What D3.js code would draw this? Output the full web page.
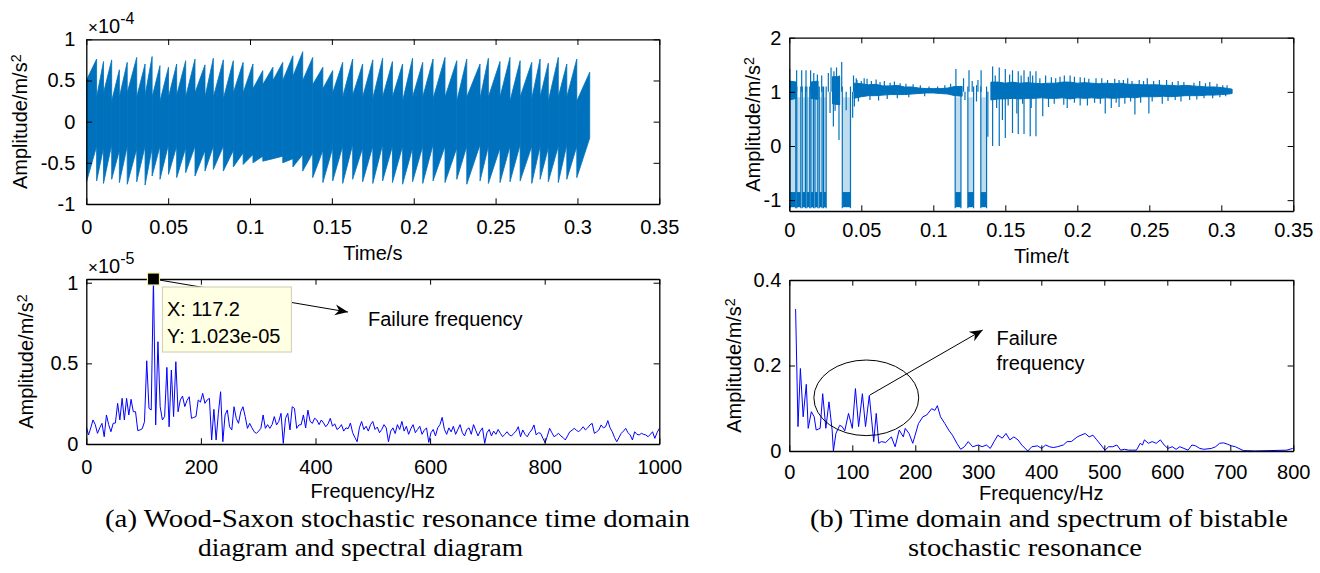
<!DOCTYPE html>
<html lang="en">
<head>
<meta charset="UTF-8">
<title>Stochastic resonance</title>
<script src="https://d3js.org/d3.v7.min.js"></script>
<style>
  body { margin: 0; background: #fff; }
  svg { display: block; }
</style>
</head>
<body>
<svg width="1320" height="573"></svg>
<script>
// ---- data ----

// (a) top: Wood-Saxon SR output, x1e-4 ; sawtooth-like bursts, one entry per burst
var tlCycleT = [0, 0.0063, 0.0105, 0.0155, 0.0202, 0.025, 0.0308, 0.0359, 0.0402, 0.045, 0.0502, 0.0552,
  0.0607, 0.0664, 0.0725, 0.0776, 0.0837, 0.0898, 0.0958, 0.1018, 0.1078, 0.114, 0.12, 0.1262, 0.1322,
  0.1383, 0.1445, 0.1505, 0.1566, 0.1627, 0.1688, 0.175, 0.181, 0.187, 0.1932, 0.1993, 0.2055, 0.2118,
  0.2191, 0.2263, 0.2324, 0.2405, 0.2456, 0.2527, 0.2588, 0.265, 0.2721, 0.2772, 0.2822, 0.2883, 0.2935,
  0.2996, 0.3075];
var tlUpStart = [0.5, 0.3, 0.35, 0.25, 0.3, 0.35, 0.3, 0.32, 0.3, 0.25, 0.3, 0.32, 0.3, 0.35, 0.3, 0.3,
  0.28, 0.35, 0.35, 0.4, 0.45, 0.5, 0.5, 0.55, 0.5, 0.45, 0.4, 0.35, 0.3, 0.32, 0.3, 0.28, 0.3, 0.3, 0.25,
  0.3, 0.3, 0.28, 0.3, 0.25, 0.3, 0.28, 0.3, 0.3, 0.25, 0.3, 0.28, 0.3, 0.25, 0.3, 0.3, 0.25];
var tlUpPeak = [0.76, 0.73, 0.75, 0.63, 0.72, 0.78, 0.7, 0.79, 0.68, 0.66, 0.7, 0.74, 0.76, 0.69, 0.77,
  0.75, 0.74, 0.72, 0.7, 0.62, 0.66, 0.72, 0.8, 0.85, 0.78, 0.66, 0.62, 0.72, 0.76, 0.7, 0.75, 0.77, 0.73,
  0.7, 0.77, 0.72, 0.76, 0.78, 0.74, 0.76, 0.7, 0.77, 0.73, 0.78, 0.74, 0.72, 0.76, 0.71, 0.78, 0.7, 0.76, 0.6];
var tlLoTrough = [-0.74, -0.72, -0.75, -0.7, -0.74, -0.76, -0.73, -0.77, -0.66, -0.7, -0.64, -0.68, -0.62,
  -0.66, -0.6, -0.58, -0.6, -0.55, -0.52, -0.5, -0.48, -0.45, -0.5, -0.55, -0.6, -0.68, -0.74, -0.72, -0.75,
  -0.7, -0.73, -0.75, -0.72, -0.74, -0.76, -0.73, -0.75, -0.72, -0.74, -0.7, -0.76, -0.72, -0.75, -0.74,
  -0.73, -0.72, -0.75, -0.7, -0.73, -0.74, -0.7, -0.68];
var tlLoEnd = [-0.3, -0.32, -0.28, -0.35, -0.3, -0.33, -0.3, -0.32, -0.3, -0.28, -0.3, -0.32, -0.3, -0.35,
  -0.3, -0.3, -0.35, -0.38, -0.4, -0.42, -0.45, -0.42, -0.45, -0.4, -0.38, -0.35, -0.32, -0.3, -0.28, -0.32,
  -0.3, -0.28, -0.3, -0.3, -0.32, -0.3, -0.28, -0.3, -0.32, -0.3, -0.28, -0.3, -0.32, -0.3, -0.28, -0.3,
  -0.3, -0.32, -0.3, -0.28, -0.3, -0.2];

// (a) bottom: spectrum, x1e-5, bin width 1000/256 Hz
var specADf = 1000 / 256;
var specAAmp = [0.107, 0.056, 0.1, 0.149, 0.12, 0.066, 0.1, 0.128, 0.045, 0.18, 0.12, 0.076, 0.128, 0.13,
  0.252, 0.149, 0.283, 0.149, 0.283, 0.18, 0.277, 0.2, 0.2, 0.083, 0.087, 0.095, 0.138, 0.516, 0.221, 0.211,
  1.023, 0.118, 0.634, 0.231, 0.149, 0.17, 0.475, 0.107, 0.458, 0.17, 0.51, 0.2, 0.273, 0.297, 0.232, 0.27,
  0.293, 0.159, 0.165, 0.17, 0.273, 0.26, 0.314, 0.252, 0.273, 0.283, 0.025, 0.215, 0.025, 0.19, 0.324,
  0.014, 0.18, 0.211, 0.107, 0.087, 0.231, 0.159, 0.128, 0.2, 0.231, 0.17, 0.097, 0.128, 0.1, 0.076, 0.066,
  0.08, 0.097, 0.18, 0.097, 0.12, 0.097, 0.12, 0.17, 0.118, 0.14, 0.19, 0.004, 0.159, 0.19, 0.087, 0.231,
  0.221, 0.097, 0.118,
  0.12, 0.18, 0.1, 0.21, 0.14, 0.128, 0.16, 0.149, 0.12, 0.149, 0.13, 0.107, 0.125, 0.159, 0.11, 0.125,
  0.09, 0.1, 0.12, 0.08, 0.1, 0.095, 0.13, 0.07, 0.04, 0.014, 0.1, 0.14, 0.09, 0.11, 0.08, 0.12, 0.14, 0.09,
  0.105, 0.07, 0.09, 0.12, 0.1, 0.014, 0.08, 0.1, 0.065, 0.12, 0.09, 0.14, 0.08, 0.11, 0.06, 0.095, 0.12,
  0.07, 0.09, 0.11, 0.06, 0.085, 0.1, 0.01, 0.07, 0.09, 0.05, 0.1, 0.12, 0.165, 0.09, 0.06, 0.1, 0.075,
  0.11, 0.06, 0.09, 0.12, 0.07, 0.05, 0.09, 0.1, 0.06, 0.12, 0.085, 0.05, 0.08, 0.1, 0.004, 0.07, 0.09,
  0.05, 0.08, 0.06, 0.09,
  0.066, 0.045, 0.06, 0.076, 0.056, 0.05, 0.066, 0.08, 0.107, 0.045, 0.087, 0.06, 0.045, 0.07, 0.087,
  0.118, 0.056, 0.07, 0.066, 0.035, 0.008, 0.05, 0.097, 0.07, 0.045, 0.055, 0.066, 0.05, 0.04, 0.025, 0.05,
  0.076, 0.085, 0.097, 0.085, 0.076, 0.09, 0.107, 0.087, 0.1, 0.118, 0.128, 0.066, 0.075, 0.087, 0.118,
  0.1, 0.107, 0.145, 0.1, 0.076, 0.04, 0.014, 0.04, 0.066, 0.08, 0.097, 0.07, 0.056, 0.025, 0.076, 0.06,
  0.056, 0.066, 0.06, 0.056, 0.045, 0.06, 0.076, 0.035, 0.07, 0.097];
var peakA = {f: 117.2, a: 1.023};

// (b) top: bistable SR output
var trT = [0, 0.005, 0.01, 0.015, 0.02, 0.025, 0.03, 0.035, 0.04, 0.045, 0.05, 0.055, 0.06, 0.065, 0.07,
  0.075, 0.08, 0.085, 0.09, 0.095, 0.1, 0.105, 0.11, 0.115, 0.12, 0.125, 0.13, 0.135, 0.14, 0.145, 0.15,
  0.155, 0.16, 0.165, 0.17, 0.175, 0.18, 0.185, 0.19, 0.195, 0.2, 0.205, 0.21, 0.215, 0.22, 0.225, 0.23,
  0.235, 0.24, 0.245, 0.25, 0.255, 0.26, 0.265, 0.27, 0.275, 0.28, 0.285, 0.29, 0.295, 0.3, 0.305, 0.3075];
var trHi = [1.2, 1.18, 1.2, 1.18, 1.2, 1.22, 1.28, 1.28, 1.22, 1.16, 1.15, 1.13, 1.14, 1.11, 1.11, 1.12, 1.09,
  1.09, 1.07, 1.06, 1.06, 1.06, 1.07, 1.1, 1.1, 1.12, 1.12, 1.15, 1.18, 1.18, 1.16, 1.18, 1.16, 1.17, 1.16,
  1.15, 1.16, 1.16, 1.18, 1.18, 1.16, 1.17, 1.16, 1.15, 1.16, 1.15, 1.16, 1.14, 1.14, 1.13, 1.13, 1.13, 1.12,
  1.12, 1.11, 1.12, 1.11, 1.1, 1.09, 1.09, 1.08, 1.06, 1.05];
var trLo = [0.85, 0.88, 0.85, 0.88, 0.86, 0.82, 0.78, 0.76, 0.82, 0.88, 0.91, 0.93, 0.93, 0.94, 0.95, 0.95,
  0.95, 0.96, 0.97, 0.98, 0.98, 0.97, 0.96, 0.93, 0.92, 0.91, 0.9, 0.89, 0.85, 0.87, 0.87, 0.88, 0.87, 0.88,
  0.88, 0.89, 0.88, 0.88, 0.89, 0.87, 0.89, 0.88, 0.89, 0.88, 0.89, 0.88, 0.89, 0.9, 0.89, 0.91, 0.91, 0.91,
  0.92, 0.91, 0.92, 0.93, 0.93, 0.93, 0.94, 0.94, 0.95, 0.96, 0.97];
// time intervals spent in the lower well (around -1)
var trLowStart = [0.0005, 0.0052, 0.009, 0.0122, 0.015, 0.0178, 0.0208, 0.0238, 0.0368, 0.1152, 0.124, 0.133];
var trLowEnd = [0.0045, 0.008, 0.0112, 0.0142, 0.0168, 0.0198, 0.0228, 0.0256, 0.0425, 0.1192, 0.128, 0.137];
// spikes leaving the band (large ones first, then the small ragged ones)
var trSpikeT = [0.0003, 0.0051, 0.0086, 0.0116, 0.0148, 0.017, 0.0195, 0.0225, 0.0271, 0.029, 0.031, 0.0328,
  0.0347, 0.0364, 0.0446, 0.0465, 0.052, 0.0603, 0.1157, 0.1248, 0.1332, 0.1412, 0.1458, 0.15, 0.155, 0.159,
  0.163, 0.1673, 0.1713, 0.178, 0.188, 0.195, 0.202, 0.213, 0.229, 0.235, 0.2486, 0.262, 0.285,
  0.0283, 0.0306, 0.0318, 0.0345, 0.044, 0.0452, 0.0395, 0.1379, 0.1412, 0.1458, 0.148, 0.15, 0.155, 0.158,
  0.159, 0.163, 0.1673, 0.1713, 0.176, 0.1906, 0.202, 0.2194, 0.2236, 0.229, 0.24, 0.2497, 0.259, 0.278, 0.294,
  0.047, 0.05, 0.054, 0.057, 0.063, 0.066, 0.07, 0.073, 0.077, 0.081, 0.086, 0.091, 0.097, 0.103, 0.108,
  0.112, 0.121, 0.127, 0.131, 0.143, 0.153, 0.161, 0.166, 0.169, 0.174, 0.182, 0.185, 0.191, 0.198, 0.205,
  0.208, 0.217, 0.221, 0.226, 0.232, 0.238, 0.243, 0.246, 0.253, 0.257, 0.266, 0.27, 0.274, 0.281, 0.289,
  0.292, 0.297, 0.301, 0.304,
  0.048, 0.056, 0.062, 0.068, 0.075, 0.083, 0.094, 0.122, 0.13, 0.144, 0.152, 0.162, 0.168, 0.18, 0.184,
  0.193, 0.198, 0.207, 0.212, 0.216, 0.227, 0.233, 0.237, 0.244, 0.252, 0.263, 0.268, 0.272, 0.283, 0.288,
  0.299, 0.303];
var trSpikeV = [1.42, 1.4, 1.4, 1.4, 1.4, 1.35, 1.32, 1.3, 1.35, 1.45, 1.38, 1.45, 1.3, 1.55, 1.3, 1.25,
  1.25, 1.23, 1.42, 1.4, 1.4, 1.47, 1.45, 1.42, 1.4, 1.38, 1.4, 1.38, 1.38, 1.3, 1.28, 1.3, 1.27, 1.25, 1.22,
  1.25, 1.25, 1.22, 1.2,
  0.61, 0.36, 0.65, 0.11, 0.52, 0.73, 0.66, 0.17, 0.0, 0.0, 0.48, 0.15, 0.24, 0.6, 0.22, 0.22, 0.18, 0.18,
  0.55, 0.76, 0.75, 0.6, 0.7, 0.72, 0.58, 0.6, 0.78, 0.85, 0.88,
  1.22, 1.2, 1.24, 1.2, 1.18, 1.2, 1.17, 1.19, 1.16, 1.15, 1.14, 1.12, 1.1, 1.1, 1.12, 1.15, 1.25, 1.2,
  1.22, 1.3, 1.32, 1.3, 1.28, 1.3, 1.25, 1.27, 1.25, 1.3, 1.28, 1.26, 1.24, 1.25, 1.22, 1.24, 1.22, 1.2,
  1.22, 1.2, 1.2, 1.22, 1.18, 1.2, 1.18, 1.17, 1.16, 1.18, 1.15, 1.12, 1.12,
  0.82, 0.85, 0.84, 0.87, 0.88, 0.9, 0.92, 0.85, 0.82, 0.7, 0.75, 0.78, 0.7, 0.72, 0.78, 0.7, 0.8, 0.75,
  0.8, 0.78, 0.8, 0.78, 0.82, 0.8, 0.82, 0.83, 0.85, 0.82, 0.86, 0.88, 0.9, 0.92];

// (b) bottom: spectrum of bistable output
var specBFreq = [10, 13.8, 17.6, 22, 27, 30, 35, 39.5, 42.7, 49, 53, 58, 63, 68, 70, 74, 80, 84, 88, 94, 100,
  105, 110, 116, 121, 127, 134, 138, 142, 146, 153, 162, 168, 174.5, 181, 184, 190, 196, 205, 212, 218, 226,
  231, 235, 240, 247, 253, 259, 266, 272, 278, 284, 291, 300, 306, 313, 319, 325, 331, 338, 344, 350, 356.5,
  363, 369, 378.5, 385, 394, 400.5, 407, 413, 419, 425.6, 435, 441, 447.6, 457, 463, 469.6, 476, 482, 488,
  494.7, 501, 507, 513.5, 520, 526, 532, 538.6, 545, 551, 557, 560.6, 563.7, 570, 576, 582.5, 589, 595, 601,
  607.7, 614, 620, 626.5, 633, 639, 645, 651.6, 658, 670, 676.7, 683, 689, 695.5, 702, 708, 720.6, 739.5,
  764.6, 789.7, 799];
var specBAmp = [0.332, 0.057, 0.193, 0.08, 0.156, 0.053, 0.092, 0.08, 0.049, 0.053, 0.134, 0.053, 0.115,
  0.049, 0.0, 0.041, 0.06, 0.057, 0.047, 0.088, 0.053, 0.146, 0.057, 0.134, 0.057, 0.13, 0.022, 0.088, 0.018,
  0.022, 0.02, 0.033, 0.01, 0.049, 0.033, 0.053, 0.041, 0.018, 0.064, 0.08, 0.084, 0.099, 0.095, 0.106,
  0.08, 0.064, 0.049, 0.037, 0.018, 0.004, 0.01, 0.022, 0.01, 0.014, 0.01, 0.014, 0.006, 0.022, 0.037, 0.03,
  0.041, 0.026, 0.033, 0.026, 0.014, 0.0, 0.01, 0.012, 0.006, 0.014, 0.01, 0.008, 0.01, 0.014, 0.022, 0.022,
  0.033, 0.037, 0.041, 0.033, 0.037, 0.026, 0.014, 0.002, 0.01, 0.01, 0.014, 0.002, 0.004, 0.002, 0.002,
  0.002, 0.018, 0.014, 0.026, 0.018, 0.022, 0.018, 0.026, 0.014, 0.006, 0.01, 0.004, 0.01, 0.006, 0.002,
  0.014, 0.012, 0.006, 0.004, 0.006, 0.01, 0.018, 0.019, 0.016, 0.012, 0.01, 0.001, 0.0, 0.001, 0.002, 0.006];

// ticks
var tTicks = [0, 0.05, 0.1, 0.15, 0.2, 0.25, 0.3, 0.35];
var tlYTicks = [-1, -0.5, 0, 0.5, 1];
var blXTicks = [0, 200, 400, 600, 800, 1000];
var blYTicks = [0, 0.5, 1];
var trYTicks = [-1, 0, 1, 2];
var brXTicks = [0, 100, 200, 300, 400, 500, 600, 700, 800];
var brYTicks = [0, 0.2, 0.4];

// ---- drawing ----
var svg = d3.select("svg");
var blue = "#0072BD";
var sans = '"Liberation Sans", Arial, sans-serif';
var serif = '"Liberation Serif", "Times New Roman", serif';
var FS = 20;

function panel(id, box, xd, yd) {
  var x = d3.scaleLinear().domain(xd).range([box.l, box.r]);
  var y = d3.scaleLinear().domain(yd).range([box.b, box.t]);
  svg.append("clipPath").attr("id", id)
    .append("rect").attr("x", box.l).attr("y", box.t)
    .attr("width", box.r - box.l).attr("height", box.b - box.t);
  var g = svg.append("g");
  var data = g.append("g").attr("clip-path", "url(#" + id + ")");
  return {x: x, y: y, g: g, data: data, box: box};
}

function frame(p, xt, yt, xPad, yPad) {
  var tl = 5.7, fmt = function(d) { return String(d); };
  var b = p.box;
  var axes = [
    [d3.axisBottom(p.x).tickValues(xt).tickFormat(fmt).tickPadding(xPad), "translate(0," + b.b + ")"],
    [d3.axisTop(p.x).tickValues(xt).tickFormat(""), "translate(0," + b.t + ")"],
    [d3.axisLeft(p.y).tickValues(yt).tickFormat(fmt).tickPadding(yPad), "translate(" + b.l + ",0)"],
    [d3.axisRight(p.y).tickValues(yt).tickFormat(""), "translate(" + b.r + ",0)"]
  ];
  axes.forEach(function(a) {
    var ax = p.g.append("g").attr("transform", a[1])
      .call(a[0].tickSizeInner(-tl).tickSizeOuter(0));
    ax.attr("font-family", sans).attr("font-size", FS);
    ax.select(".domain").attr("stroke", "#000").attr("stroke-width", 1.3);
    ax.selectAll(".tick line").attr("stroke", "#000").attr("stroke-width", 1);
    ax.selectAll(".tick text").attr("fill", "#000");
  });
}

function ylabel(x, y) {
  var t = svg.append("text").attr("transform", "translate(" + x + "," + y + ") rotate(-90)")
    .attr("text-anchor", "middle").attr("font-family", sans).attr("font-size", FS).attr("fill", "#000");
  t.append("tspan").text("Amplitude/m/s");
  t.append("tspan").attr("dy", "-0.45em").attr("font-size", FS * 0.72).text("2");
}

function label(x, y, s, fs, anchor) {
  return svg.append("text").attr("x", x).attr("y", y).attr("font-family", sans).attr("font-size", fs)
    .attr("text-anchor", anchor || "middle").attr("fill", "#000").text(s);
}

function expo(x, y, e) {
  var t = svg.append("text").attr("x", x).attr("y", y).attr("font-family", sans)
    .attr("font-size", FS).attr("fill", "#000");
  t.append("tspan").attr("font-size", 17).text("\u00d7");
  t.append("tspan").text("10");
  t.append("tspan").attr("dy", -9).attr("font-size", 16).text(e);
}

svg.append("rect").attr("width", 1320).attr("height", 573).attr("fill", "#fff");

// ---------- (a) top ----------
var pTL = panel("cTL", {l: 86.3, r: 659.3, t: 39.3, b: 204}, [0, 0.35], [-1, 1]);
var cyc = d3.range(tlCycleT.length - 1);
pTL.data.selectAll("path.cyc").data(cyc).join("path")
  .attr("d", function(i) {
    return d3.line()([
      [pTL.x(tlCycleT[i]), pTL.y(tlUpStart[i])],
      [pTL.x(tlCycleT[i + 1]), pTL.y(tlUpPeak[i])],
      [pTL.x(tlCycleT[i + 1]), pTL.y(tlLoEnd[i])],
      [pTL.x(tlCycleT[i]), pTL.y(tlLoTrough[i])]
    ]) + "Z";
  })
  .attr("fill", blue).attr("stroke", blue).attr("stroke-width", 0.8);
frame(pTL, tTicks, tlYTicks, 16, 11);
ylabel(27, 121.7);
label(372.8, 260, "Time/s", FS);
expo(88, 33, "-4");

// ---------- (a) bottom ----------
var pBL = panel("cBL", {l: 86.3, r: 659.3, t: 279, b: 444}, [0, 1000], [0, 1.023]);
pBL.data.append("path")
  .attr("d", d3.line().x(function(d, i) { return pBL.x(i * specADf); }).y(function(d) { return pBL.y(d); })(specAAmp))
  .attr("fill", "none").attr("stroke", "#0000FF").attr("stroke-width", 1);
frame(pBL, blXTicks, blYTicks, 15.6, 8);
ylabel(33, 361.5);
label(372.8, 498, "Frequency/Hz", FS);
expo(88, 273, "-5");

// failure-frequency arrow, drawn in data coordinates
var defs = svg.append("defs");
defs.append("marker").attr("id", "arr").attr("viewBox", "-14 -6 15 12")
  .attr("markerWidth", 15).attr("markerHeight", 12).attr("refX", 0).attr("refY", 0)
  .attr("orient", "auto").attr("markerUnits", "userSpaceOnUse")
  .append("path").attr("d", "M0,0 L-13,-5.5 L-9,0 L-13,5.5 Z").attr("fill", "#000");
svg.append("line")
  .attr("x1", pBL.x(peakA.f)).attr("y1", pBL.y(peakA.a))
  .attr("x2", pBL.x(456.7)).attr("y2", pBL.y(0.818))
  .attr("stroke", "#000").attr("stroke-width", 1).attr("marker-end", "url(#arr)");
label(pBL.x(491.6), pBL.y(0.774) + 7, "Failure frequency", FS, "start");
// data tip
var tipX = pBL.x(peakA.f), tipY = pBL.y(peakA.a);
svg.append("rect").attr("x", tipX + 9).attr("y", tipY + 8).attr("width", 129).attr("height", 65)
  .attr("fill", "#FFFFE3").attr("stroke", "#D6D3B8").attr("stroke-width", 1.2);
label(tipX + 13.5, tipY + 37, "X: " + peakA.f, FS, "start");
label(tipX + 13.5, tipY + 64, "Y: " + peakA.a.toFixed(3) + "e-05", FS, "start");
svg.append("rect").attr("x", tipX - 6).attr("y", tipY - 6).attr("width", 12).attr("height", 12)
  .attr("fill", "#000").attr("stroke", "#F5EEB0").attr("stroke-width", 1.2);

// ---------- (b) top ----------
var pTR = panel("cTR", {l: 789.3, r: 1293.3, t: 37.7, b: 211}, [0, 0.35], [-1.2, 2]);
// split the upper-well band where the signal sits in the lower well
var hiPts = trT.map(function(t, i) { return {t: t, hi: trHi[i], lo: trLo[i]}; });
var inLow = function(t) {
  for (var k = 0; k < trLowStart.length; k++) if (t > trLowStart[k] && t < trLowEnd[k]) return true;
  return false;
};
pTR.data.append("path")
  .attr("d", d3.area().defined(function(d) { return !inLow(d.t); })
    .x(function(d) { return pTR.x(d.t); })
    .y0(function(d) { return pTR.y(d.lo); }).y1(function(d) { return pTR.y(d.hi); })(hiPts))
  .attr("fill", blue).attr("stroke", blue).attr("stroke-width", 1);
trLowStart.forEach(function(s, k) {
  var e = trLowEnd[k], x0 = pTR.x(s), x1 = pTR.x(e);
  pTR.data.append("rect").attr("x", x0).attr("width", x1 - x0)
    .attr("y", pTR.y(0.9)).attr("height", pTR.y(-0.85) - pTR.y(0.9))
    .attr("fill", blue).attr("opacity", 0.25);
  pTR.data.append("rect").attr("x", x0).attr("width", x1 - x0)
    .attr("y", pTR.y(-0.85)).attr("height", pTR.y(-1.13) - pTR.y(-0.85))
    .attr("fill", blue);
  [x0, x1].forEach(function(xx) {
    pTR.data.append("line").attr("x1", xx).attr("x2", xx)
      .attr("y1", pTR.y(1.1)).attr("y2", pTR.y(-1.15))
      .attr("stroke", blue).attr("stroke-width", 1.2);
  });
});
pTR.data.selectAll("line.sp").data(trSpikeT).join("line")
  .attr("x1", function(t) { return pTR.x(t); }).attr("x2", function(t) { return pTR.x(t); })
  .attr("y1", pTR.y(1)).attr("y2", function(t, i) { return pTR.y(trSpikeV[i]); })
  .attr("stroke", blue).attr("stroke-width", 1.2);
frame(pTR, tTicks, trYTicks, 12, 8);
ylabel(760, 124.4);
label(1041.3, 263, "Time/t", FS);

// ---------- (b) bottom ----------
var pBR = panel("cBR", {l: 789.3, r: 1293.3, t: 280, b: 451}, [0, 800], [0, 0.4]);
pBR.data.append("path")
  .attr("d", d3.line().x(function(d, i) { return pBR.x(specBFreq[i]); }).y(function(d) { return pBR.y(d); })(specBAmp))
  .attr("fill", "none").attr("stroke", "#0000FF").attr("stroke-width", 1);
frame(pBR, brXTicks, brYTicks, 13.6, 8);
ylabel(741, 365.5);
label(1041.3, 500, "Frequency/Hz", FS);
svg.append("ellipse").attr("cx", pBR.x(122.2)).attr("cy", pBR.y(0.1244))
  .attr("rx", pBR.x(83.2) - pBR.x(0)).attr("ry", pBR.y(0) - pBR.y(0.0884))
  .attr("fill", "none").attr("stroke", "#000").attr("stroke-width", 1);
svg.append("line")
  .attr("x1", pBR.x(128)).attr("y1", pBR.y(0.131))
  .attr("x2", pBR.x(307)).attr("y2", pBR.y(0.283))
  .attr("stroke", "#000").attr("stroke-width", 1).attr("marker-end", "url(#arr)");
label(pBR.x(329), pBR.y(0.264) + 7, "Failure", FS, "start");
label(pBR.x(329), pBR.y(0.205) + 7, "frequency", FS, "start");

// ---------- captions ----------
function caption(x, y, s, len) {
  svg.append("text").attr("x", x).attr("y", y).attr("font-size", 25)
    .attr("font-family", serif)
    .attr("textLength", len).attr("lengthAdjust", "spacingAndGlyphs")
    .attr("fill", "#000").text(s);
}
caption(105, 527, "(a) Wood-Saxon stochastic resonance time domain", 585);
caption(198, 556, "diagram and spectral diagram", 325);
caption(810, 527, "(b) Time domain and spectrum of bistable", 478);
caption(908, 556, "stochastic resonance", 234);
</script>
</body>
</html>
